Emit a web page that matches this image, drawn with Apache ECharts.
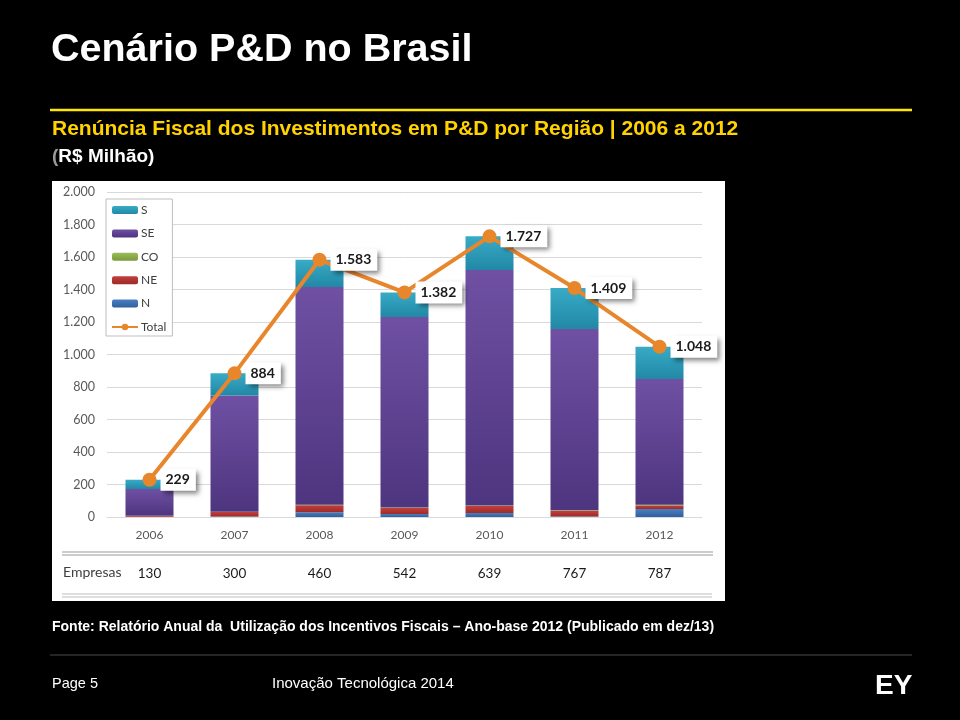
<!DOCTYPE html>
<html>
<head>
<meta charset="utf-8">
<script src="https://cdn.jsdelivr.net/npm/echarts@6/dist/echarts.min.js"></script>
<style>
html,body{margin:0;padding:0;background:#000;}
#chart{width:960px;height:720px;}
</style>
</head>
<body>
<div id="chart"></div>
<script>
// ---- data ----
var years = ['2006', '2007', '2008', '2009', '2010', '2011', '2012'];
var valN  = [2, 3, 30, 18, 25, 3, 49];
var valNE = [4, 28, 43, 37, 43, 35, 22];
var valCO = [1, 2, 3, 3, 3, 3, 5];
var valSE = [165, 715, 1339, 1173, 1449, 1116, 773];
var valS  = [57, 136, 168, 151, 207, 252, 199];
var total = [229, 884, 1583, 1382, 1727, 1409, 1048];
var empresas = ['130', '300', '460', '542', '639', '767', '787'];
var legendOrder = ['S', 'SE', 'CO', 'NE', 'N', 'Total'];

function fmt(v) {
  v = Math.round(v);
  if (v >= 1000) { var r = String(v % 1000); while (r.length < 3) r = '0' + r; return Math.floor(v / 1000) + '.' + r; }
  return String(v);
}
function grad(top, bottom) {
  return new echarts.graphic.LinearGradient(0, 0, 0, 1, [{offset: 0, color: top}, {offset: 1, color: bottom}]);
}

var chartFont = 'Lato, "Open Sans", sans-serif';
var slideFont = '"Liberation Sans", Arial, sans-serif';

var chart = echarts.init(document.getElementById('chart'), null, {renderer: 'canvas'});

function barSeries(name, data, color) {
  return {
    name: name, type: 'bar', stack: 'reg', data: data, barWidth: 48,
    itemStyle: {color: color}, z: 2, emphasis: {disabled: true}
  };
}

var option = {
  backgroundColor: '#000',
  animation: false,
  textStyle: {fontFamily: chartFont},
  grid: {left: 107, right: 258, top: 192, bottom: 203, containLabel: false},
  legend: {
    data: legendOrder, orient: 'vertical', left: 106, top: 199,
    itemWidth: 26, itemHeight: 8, itemGap: 11.4,
    backgroundColor: '#fff', borderColor: '#bfbfbf', borderWidth: 1,
    padding: [5, 6, 3, 5],
    textStyle: {fontFamily: chartFont, fontSize: 12, color: '#404040', padding: [0, 0, 0, -2]},
    selectedMode: false
  },
  xAxis: [{
    type: 'category', data: years, gridIndex: 0, position: 'bottom',
    axisLine: {lineStyle: {color: '#d9d9d9'}}, axisTick: {show: false},
    axisLabel: {color: '#595959', fontSize: 12, margin: 12, fontFamily: chartFont}
  }, {
    type: 'category', data: empresas, gridIndex: 0, position: 'bottom', offset: 42,
    axisLine: {show: false}, axisTick: {show: false},
    axisLabel: {color: '#1a1a1a', fontSize: 13.5, margin: 8, fontFamily: chartFont}
  }],
  yAxis: {
    type: 'value', min: 0, max: 2000, interval: 200,
    axisLine: {show: false}, axisTick: {show: false},
    splitLine: {lineStyle: {color: '#d9d9d9'}},
    axisLabel: {color: '#595959', fontSize: 12.5, margin: 12, formatter: fmt, fontFamily: chartFont}
  },
  series: [
    barSeries('N', valN, grad('#4a7fc0', '#2f5f9e')),
    barSeries('NE', valNE, grad('#c0403c', '#a02a28')),
    barSeries('CO', valCO, grad('#9cbb58', '#7a9a3c')),
    barSeries('SE', valSE, grad('#6f50a3', '#4e357f')),
    barSeries('S', valS, grad('#38abc6', '#2188a6')),
    {
      name: 'Total', type: 'line', data: total, z: 5,
      lineStyle: {color: '#e8862c', width: 4},
      itemStyle: {color: '#e8862c'},
      symbol: 'circle', symbolSize: 14,
      label: {
        show: true, position: 'right', distance: 4,
        formatter: function (p) { return fmt(p.value); },
        fontFamily: chartFont, fontWeight: 'bold', fontSize: 14, color: '#1a1a1a',
        backgroundColor: '#fff', padding: [4, 6, 4, 5],
        shadowColor: 'rgba(0,0,0,0.5)', shadowBlur: 5, shadowOffsetX: 3, shadowOffsetY: 3
      },
      emphasis: {disabled: true}
    }
  ],
  graphic: [
    // white chart panel
    {type: 'rect', z: -10, shape: {x: 52, y: 181, width: 673, height: 420}, style: {fill: '#fff'}},
    // double separator lines of the Empresas row
    {type: 'line', z: 10, shape: {x1: 62, y1: 552, x2: 713, y2: 552}, style: {stroke: '#9a9a9a', lineWidth: 1.2}},
    {type: 'line', z: 10, shape: {x1: 62, y1: 555, x2: 713, y2: 555}, style: {stroke: '#9a9a9a', lineWidth: 1.2}},
    {type: 'line', z: 10, shape: {x1: 62, y1: 594, x2: 712, y2: 594}, style: {stroke: '#bdbdbd', lineWidth: 1.2}},
    {type: 'line', z: 10, shape: {x1: 62, y1: 597, x2: 712, y2: 597}, style: {stroke: '#bdbdbd', lineWidth: 1.2}},
    {type: 'text', z: 10, left: 63, top: 565, style: {text: 'Empresas', fill: '#404040', font: '14px ' + chartFont}},
    // slide texts
    {type: 'text', left: 51, top: 30, style: {text: 'Cenário P&D no Brasil', fill: '#fff', font: 'bold 39.5px ' + slideFont}},
    {type: 'line', shape: {x1: 50, y1: 110, x2: 912, y2: 110}, style: {stroke: '#ffe600', lineWidth: 2.5}},
    {type: 'text', left: 52, top: 119, style: {text: 'Renúncia Fiscal dos Investimentos em P&D por Região | 2006 a 2012', fill: '#ffd200', font: 'bold 21px ' + slideFont}},
    {type: 'text', left: 52, top: 147, style: {
      text: '{g|(}{w|R$ Milhão)}',
      rich: {g: {fill: '#9a9a9a', font: 'bold 19px ' + slideFont}, w: {fill: '#fff', font: 'bold 19px ' + slideFont}}
    }},
    {type: 'text', left: 52, top: 620, style: {text: 'Fonte: Relatório Anual da  Utilização dos Incentivos Fiscais – Ano-base 2012 (Publicado em dez/13)', fill: '#fff', font: 'bold 14px ' + slideFont}},
    {type: 'line', shape: {x1: 50, y1: 655, x2: 912, y2: 655}, style: {stroke: '#4a4a4a', lineWidth: 1}},
    {type: 'text', left: 52, top: 676, style: {text: 'Page 5', fill: '#fff', font: '14.5px ' + slideFont}},
    {type: 'text', left: 272, top: 676, style: {text: 'Inovação Tecnológica 2014', fill: '#fff', font: '15px ' + slideFont}},
    {type: 'text', left: 875, top: 672, style: {text: 'EY', fill: '#fff', font: 'bold 28px ' + slideFont}}
  ]
};
chart.setOption(option);
</script>
</body>
</html>
